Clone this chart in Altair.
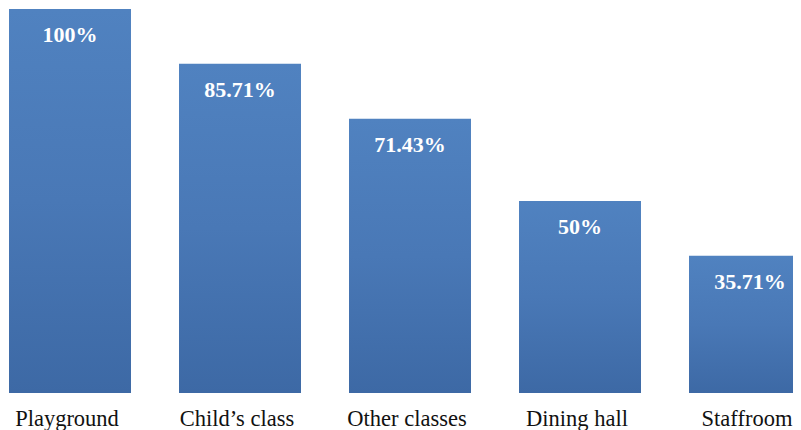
import altair as alt
import pandas as pd

categories = ["Playground", "Child\u2019s class", "Other classes", "Dining hall", "Staffroom"]
values = [100, 85.71, 71.43, 50, 35.71]
labels = ["100%", "85.71%", "71.43%", "50%", "35.71%"]

df = pd.DataFrame({"cat": categories, "val": values, "lab": labels})

x = alt.X(
    "cat:N",
    sort=categories,
    title=None,
    scale=alt.Scale(range=[-23, 827], paddingInner=0.2824, paddingOuter=0.1412),
    axis=alt.Axis(
        domain=False, ticks=False, tickSize=0, grid=False,
        labelAngle=0, labelFont="Liberation Serif", labelFontSize=22.5,
        labelColor="#111111", labelBaseline="alphabetic", labelPadding=32,
        labelOffset=-3, labelOverlap=False, labelLimit=300,
    ),
)
y = alt.Y("val:Q", scale=alt.Scale(domain=[0, 100], nice=False, zero=True), axis=None)

grad = alt.Gradient(
    gradient="linear",
    stops=[
        alt.GradientStop(color="#5082C0", offset=0),
        alt.GradientStop(color="#4978B6", offset=0.5),
        alt.GradientStop(color="#3D69A5", offset=1),
    ],
    x1=0, x2=0, y1=0, y2=1,
)

bars = alt.Chart(df).mark_bar(color=grad).encode(x=x, y=y)
text = alt.Chart(df).mark_text(
    font="Liberation Serif", fontSize=22, fontWeight="bold", color="white",
    baseline="alphabetic", align="center", dy=33,
).encode(x=x, y=y, text="lab:N")

chart = (bars + text).properties(
    width=785, height=384,
    autosize=alt.AutoSizeParams(type="none"),
    padding={"left": 0, "top": 1, "right": 0, "bottom": 45},
).configure_view(stroke=None)

chart.save("out.html", embed_options={"renderer": "svg", "actions": False})
